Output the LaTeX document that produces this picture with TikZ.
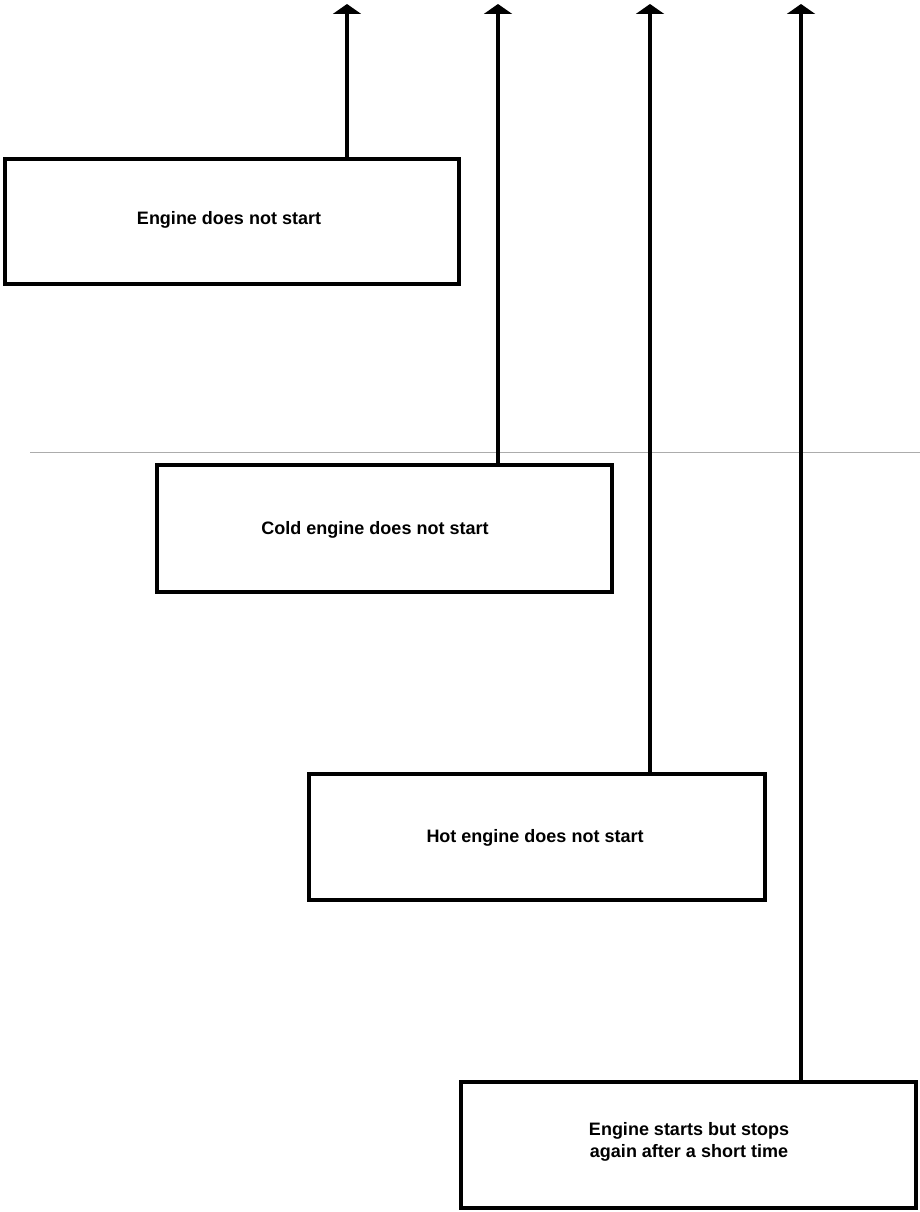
\documentclass[tikz,border=0pt]{standalone}
\usepackage{fontspec}
\setmainfont{Liberation Sans}
\usetikzlibrary{arrows.meta}
\tikzset{
  box/.style={draw, line width=3.5pt, inner sep=0pt, minimum width=#1},
  box/.default=455pt,
  lbl/.style={font=\bfseries\fontsize{18}{22}\selectfont, align=center, inner sep=0pt},
  riser/.style={line width=3.5pt, -{Triangle[width=28pt,length=10pt]}},
  scanline/.style={line width=0.8pt, gray!65}
}
\begin{document}
\begin{tikzpicture}[x=1pt, y=-1pt]
\useasboundingbox (0,0) rectangle (920,1212);
\coordinate (sl) at (30,452);
\coordinate (sr) at (920,452);
\draw[scanline] (sl) -- (sr);
\node[box=454pt, minimum height=125pt] (b1) at (232,221.5) {};
\node[box=455pt, minimum height=127pt] (b2) at (384.5,528.5) {};
\node[box=456pt, minimum height=126pt] (b3) at (537,837) {};
\node[box=455pt, minimum height=126pt] (b4) at (688.5,1145) {};
\node[lbl] (t1) at (229,220) {Engine does not start};
\node[lbl] (t2) at (375,530) {Cold engine does not start};
\node[lbl] (t3) at (535,838) {Hot engine does not start};
\node[lbl] (t4) at (689,1142) {Engine starts but stops\\again after a short time};
\coordinate (top1) at (347,4);
\coordinate (top2) at (498,4);
\coordinate (top3) at (650,4);
\coordinate (top4) at (801,4);
\draw[riser] (b1.north -| top1) -- (top1);
\draw[riser] (b2.north -| top2) -- (top2);
\draw[riser] (b3.north -| top3) -- (top3);
\draw[riser] (b4.north -| top4) -- (top4);
\end{tikzpicture}
\end{document}
